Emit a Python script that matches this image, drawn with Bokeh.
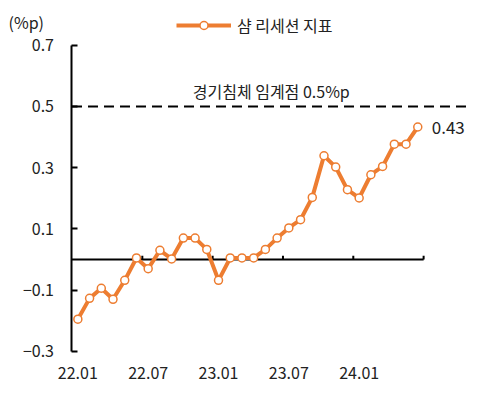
from bokeh.plotting import figure
from bokeh.models import Range1d, FixedTicker, Label, Legend, LegendItem
from bokeh.embed import file_html
from bokeh.resources import INLINE

months = ["22.01","22.02","22.03","22.04","22.05","22.06","22.07","22.08","22.09","22.10","22.11","22.12",
          "23.01","23.02","23.03","23.04","23.05","23.06","23.07","23.08","23.09","23.10","23.11","23.12",
          "24.01","24.02","24.03","24.04","24.05","24.06"]
values = [-0.195, -0.127, -0.094, -0.13, -0.068, 0.005, -0.03, 0.03, 0.002, 0.07, 0.07, 0.033,
          -0.068, 0.005, 0.005, 0.005, 0.033, 0.07, 0.103, 0.13, 0.203, 0.339, 0.302, 0.228,
          0.201, 0.277, 0.304, 0.377, 0.377, 0.433]
y_ticks = [-0.3, -0.1, 0.1, 0.3, 0.5, 0.7]
x_label_months = ["22.01", "22.07", "23.01", "23.07", "24.01"]
threshold = 0.5
series_name = "샴 리세션 지표"
threshold_text = "경기침체 임계점 0.5%p"
unit_text = "(%p)"

ORANGE = "#ED7D31"
FONT = "Noto Sans CJK KR"
TXT = "#222222"

xs = [i + 0.5 for i in range(len(months))]
n = len(months)
y_lo, y_hi = y_ticks[0], y_ticks[-1]

H = 384
# frame covers the whole figure; axes are pinned at data positions
p = figure(width=472, height=H, output_backend="svg", toolbar_location=None,
           x_range=Range1d(-6.10, 34.17), y_range=Range1d(-0.4085, 0.8464),
           min_border=0, min_border_left=0, min_border_right=0,
           min_border_top=0, min_border_bottom=0)
p.outline_line_color = None
p.grid.grid_line_color = None

# y axis at x = 0
ya = p.yaxis[0]
ya.fixed_location = 0
ya.bounds = (y_lo, y_hi)
ya.ticker = FixedTicker(ticks=y_ticks)
ya.major_label_overrides = {t: (f"{t:.1f}".replace("-", "−")) for t in y_ticks}
ya.axis_line_width = 2
ya.axis_line_color = "black"
ya.major_tick_in = 6
ya.major_tick_out = 0
ya.major_tick_line_width = 2
ya.minor_tick_line_color = None
ya.major_label_standoff = 18
ya.major_label_text_font = FONT
ya.major_label_text_font_size = "16px"
ya.major_label_text_color = TXT

# x axis: labels only, pinned at bottom of y range
xa = p.xaxis[0]
xa.fixed_location = y_lo
label_pos = [xs[months.index(m)] for m in x_label_months]
xa.ticker = FixedTicker(ticks=label_pos)
xa.major_label_overrides = {pos: m for pos, m in zip(label_pos, x_label_months)}
xa.axis_line_color = None
xa.major_tick_line_color = None
xa.minor_tick_line_color = None
xa.major_tick_in = 0
xa.major_tick_out = 0
xa.major_label_standoff = 16
xa.major_label_text_font = FONT
xa.major_label_text_font_size = "16px"
xa.major_label_text_color = TXT

# zero line with category-boundary ticks
p.segment(x0=[0], y0=[0], x1=[n], y1=[0], line_color="black", line_width=2)
bounds = [months.index(m) for m in x_label_months[1:]] + [n]
p.segment(x0=bounds, y0=[0]*len(bounds), x1=bounds, y1=[0.012]*len(bounds),
          line_color="black", line_width=2)

# threshold line
p.segment(x0=[0], y0=[threshold], x1=[33.66], y1=[threshold], line_color="black",
          line_width=2, line_dash="10 6")
p.add_layout(Label(x=17.0, y=threshold, y_offset=3, text=threshold_text, text_align="center",
                   text_baseline="bottom", text_font=FONT, text_font_size="16px",
                   text_color=TXT))

# series
r_line = p.line(xs, values, line_color=ORANGE, line_width=4)
r_pts = p.scatter(xs, values, size=8, marker="circle", fill_color="white",
                  line_color=ORANGE, line_width=1.5)

p.add_layout(Label(x=xs[-1], y=values[-1], x_offset=14, text=f"{values[-1]:.2f}",
                   text_baseline="middle", text_font=FONT, text_font_size="17px",
                   text_color=TXT))

# unit label (top-left)
p.add_layout(Label(x=8, y=H - 21, x_units="screen", y_units="screen", text=unit_text,
                   text_baseline="middle", text_font=FONT, text_font_size="16px",
                   text_color=TXT))

legend = Legend(items=[LegendItem(label=series_name, renderers=[r_line, r_pts])],
                location=(176, H - 37), glyph_width=55, glyph_height=20,
                label_text_font=FONT, label_text_font_size="16px", label_text_color=TXT,
                border_line_color=None, background_fill_alpha=0, padding=0, margin=0,
                label_standoff=6)
p.add_layout(legend)

open("out.html", "w").write(file_html(p, INLINE))
